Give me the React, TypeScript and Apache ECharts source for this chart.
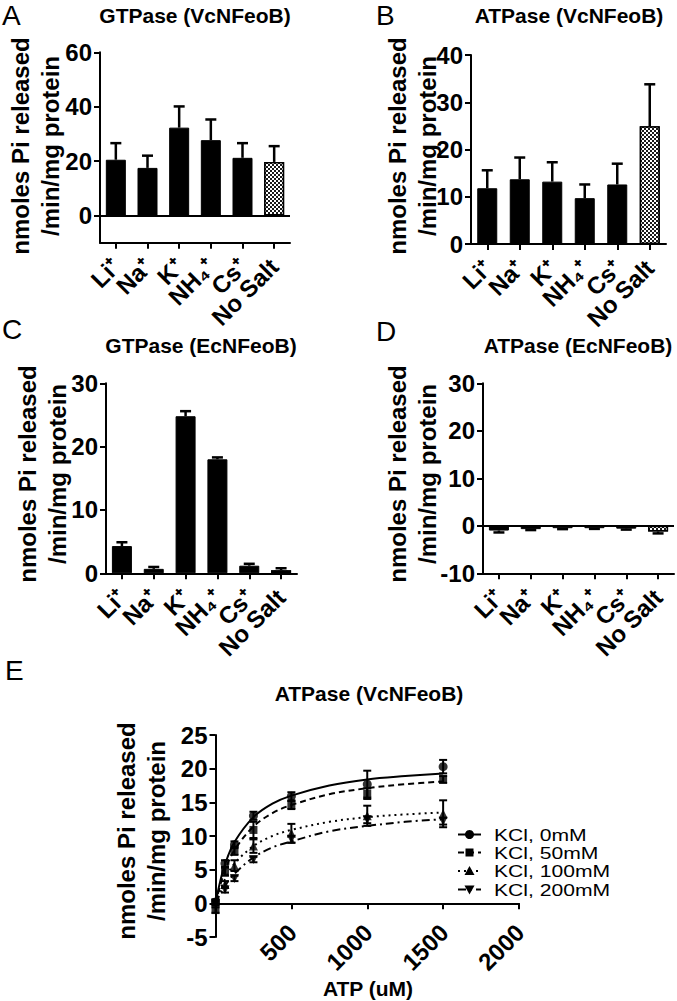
import React, { useEffect, useRef } from 'react';
import * as echarts from 'echarts';

// ---------- data ----------
const cations = ['Li⁺', 'Na⁺', 'K⁺', 'NH₄⁺', 'Cs⁺', 'No Salt'];

// A: GTPase (VcNFeoB)
const gtpaseVc = [20.5, 17.5, 32.3, 27.7, 21.2, 19.7];
const gtpaseVcErr = [6.1, 4.5, 7.8, 7.6, 5.4, 5.8];
// B: ATPase (VcNFeoB)
const atpaseVc = [11.8, 13.7, 13.2, 9.7, 12.6, 24.9];
const atpaseVcErr = [3.8, 4.6, 4.1, 2.9, 4.4, 8.9];
// C: GTPase (EcNFeoB)
const gtpaseEc = [4.3, 0.7, 24.8, 18.0, 1.2, 0.5];
const gtpaseEcErr = [0.6, 0.3, 0.8, 0.3, 0.3, 0.3];
// D: ATPase (EcNFeoB)
const atpaseEc = [-1.0, -0.7, -0.5, -0.5, -0.6, -1.2];
const atpaseEcErr = [0.4, 0.2, 0.2, 0.15, 0.2, 0.4];

const ticksA = [0, 20, 40, 60];

// E: ATPase (VcNFeoB) vs ATP
const atpConc = [0, 62.5, 125, 250, 500, 1000, 1500];
const kcl0 = [0.2, 5.9, 8.7, 13.0, 15.9, 17.7, 20.3];
const kcl0Err = [0.3, 0.5, 0.5, 0.6, 0.6, 2.0, 1.0];
const kcl50 = [-1.0, 4.7, 7.8, 10.9, 14.6, 16.3, 18.4];
const kcl50Err = [0.4, 0.6, 0.6, 1.2, 0.6, 0.8, 0.5];
const kcl100 = [0.3, 2.8, 5.6, 8.5, 10.4, 13.0, 13.3];
const kcl100Err = [0.3, 0.5, 0.8, 1.0, 1.4, 1.5, 2.0];
const kcl200 = [0.0, 2.0, 3.7, 6.5, 9.5, 12.4, 12.2];
const kcl200Err = [0.3, 0.4, 0.4, 0.4, 0.5, 0.5, 0.5];

const fitConc = [0, 31.25, 62.5, 125, 250, 375, 500, 750, 1000, 1250, 1500];
const fit0 = [0, 3.3, 5.8, 9.1, 12.8, 14.8, 16.0, 17.5, 18.4, 18.9, 19.3];
const fit50 = [0, 2.7, 4.9, 7.9, 11.4, 13.4, 14.6, 16.2, 17.1, 17.7, 18.1];
const fit100 = [0, 2.0, 3.6, 5.9, 8.5, 10.0, 10.9, 12.1, 12.8, 13.2, 13.5];
const fit200 = [0, 1.4, 2.6, 4.4, 6.8, 8.3, 9.2, 10.7, 11.5, 12.1, 12.5];

const legendLabels = ['KCl, 0mM', 'KCl, 50mM', 'KCl, 100mM', 'KCl, 200mM'];
const xLabelsE = [500, 1000, 1500, 2000];

// ---------- styling ----------
const F = "'Liberation Sans', Arial, Helvetica, sans-serif";
const K = '#000';
const LW = 2;

const axisLineStyle = { color: K, width: LW };
const tickStyle = { show: true, length: 6, lineStyle: { color: K, width: LW } };
const numLabel = { color: K, fontFamily: F, fontWeight: 'bold' as const, fontSize: 24, margin: 8 };

const noSaltDecal = {
  symbol: 'rect',
  symbolSize: 1,
  color: '#ffffff',
  dashArrayX: [[2, 2], [0, 2, 2, 0]],
  dashArrayY: [2, 0],
  rotation: 0,
};

const dashes: any[] = ['solid', [6, 4], [2, 4], [8, 4, 2, 4]];
const symbols = ['circle', 'rect', 'triangle', 'triangle'];
const symRot = [0, 0, 0, 180];

function txt(
  x: number,
  y: number,
  text: string,
  font: string,
  rotation = 0,
  align = 'center',
  vAlign = 'middle',
  extra: any = {}
) {
  const style: any = {
    text,
    font,
    fill: K,
    textAlign: align,
    textVerticalAlign: vAlign,
    align,
    verticalAlign: vAlign,
  };
  return { type: 'text', x, y, rotation, silent: true, style, ...extra };
}

function barErrRender(params: any, api: any) {
  const i = api.value(0);
  const v = api.value(1);
  const e = api.value(2);
  const dir = v < 0 ? -1 : 1;
  const p0 = api.coord([i, v]);
  const p1 = api.coord([i, v + dir * e]);
  const style = { stroke: K, lineWidth: 2.5 };
  return {
    type: 'group',
    children: [
      { type: 'line', shape: { x1: p0[0], y1: p0[1], x2: p1[0], y2: p1[1] }, style },
      { type: 'line', shape: { x1: p1[0] - 5.5, y1: p1[1], x2: p1[0] + 5.5, y2: p1[1] }, style },
    ],
  };
}

function xyErrRender(params: any, api: any) {
  const x = api.value(0);
  const y = api.value(1);
  const e = api.value(2);
  const lo = api.coord([x, y - e]);
  const hi = api.coord([x, y + e]);
  const style = { stroke: K, lineWidth: 2 };
  return {
    type: 'group',
    children: [
      { type: 'line', shape: { x1: lo[0], y1: lo[1], x2: hi[0], y2: hi[1] }, style },
      { type: 'line', shape: { x1: hi[0] - 4, y1: hi[1], x2: hi[0] + 4, y2: hi[1] }, style },
      { type: 'line', shape: { x1: lo[0] - 4, y1: lo[1], x2: lo[0] + 4, y2: lo[1] }, style },
    ],
  };
}

const eHeight = 202;
const eMin = -5;
const eMax = 25;

function buildGraphic(): any[] {
  const letterFont = `normal 28px ${F}`;
  const titleFont = `bold 21px ${F}`;
  const nameFont = `bold 24px ${F}`;
  const legendFont = `normal 16px ${F}`;
  const R = Math.PI / 2;

  const graphic: any[] = [
    txt(2, 15, 'A', letterFont, 0, 'left'),
    txt(376, 15, 'B', letterFont, 0, 'left'),
    txt(2, 329, 'C', letterFont, 0, 'left'),
    txt(376, 331, 'D', letterFont, 0, 'left'),
    txt(5, 670, 'E', letterFont, 0, 'left'),

    txt(195, 15, 'GTPase (VcNFeoB)', titleFont),
    txt(569, 15, 'ATPase (VcNFeoB)', titleFont),
    txt(201, 345, 'GTPase (EcNFeoB)', titleFont),
    txt(578, 345, 'ATPase (EcNFeoB)', titleFont),
    txt(369, 693, 'ATPase (VcNFeoB)', titleFont),

    txt(20, 146, 'nmoles Pi released', nameFont, R),
    txt(50, 146, '/min/mg protein', nameFont, R),
    txt(397, 146, 'nmoles Pi released', nameFont, R),
    txt(427, 146, '/min/mg protein', nameFont, R),
    txt(27, 474, 'nmoles Pi released', nameFont, R),
    txt(57, 474, '/min/mg protein', nameFont, R),
    txt(397, 474, 'nmoles Pi released', nameFont, R),
    txt(427, 474, '/min/mg protein', nameFont, R),
    txt(126, 831, 'nmoles Pi released', nameFont, R),
    txt(156, 831, '/min/mg protein', nameFont, R),

    txt(368, 988, 'ATP (uM)', titleFont),
  ];

  const legendY = [834.5, 852.5, 871, 889.5];
  legendY.forEach((y, k) => {
    const cx = 469.5;
    graphic.push({
      type: 'line',
      silent: true,
      shape: { x1: 458, y1: y, x2: 481, y2: y },
      style: { stroke: K, lineWidth: 2, lineDash: k === 0 ? null : dashes[k] },
    });
    if (k === 0) {
      graphic.push({ type: 'circle', silent: true, shape: { cx, cy: y, r: 4.5 }, style: { fill: K } });
    } else if (k === 1) {
      graphic.push({ type: 'rect', silent: true, shape: { x: cx - 4, y: y - 4, width: 8, height: 8 }, style: { fill: K } });
    } else if (k === 2) {
      graphic.push({
        type: 'polygon',
        silent: true,
        shape: { points: [[cx, y - 5], [cx + 5, y + 4], [cx - 5, y + 4]] },
        style: { fill: K },
      });
    } else {
      graphic.push({
        type: 'polygon',
        silent: true,
        shape: { points: [[cx, y + 5], [cx + 5, y - 4], [cx - 5, y - 4]] },
        style: { fill: K },
      });
    }
    graphic.push(txt(494, y + 0.5, legendLabels[k], legendFont, 0, 'left', 'middle', { scaleX: 1.32, scaleY: 1.08 }));
  });
  return graphic;
}

function buildOption() {
  const grids = [
    { left: 100, top: 52.3, width: 190, height: 190.4 }, // A
    { left: 471, top: 55, width: 195, height: 189 }, // B
    { left: 106, top: 383.3, width: 191, height: 190 }, // C
    { left: 483, top: 383.3, width: 191, height: 190 }, // D
    { left: 215.5, top: 735, width: 303.5, height: eHeight }, // E
  ];

  const panels = [
    { data: gtpaseVc, err: gtpaseVcErr, min: -10, max: 60, interval: 20, custom: ticksA, zero: true },
    { data: atpaseVc, err: atpaseVcErr, min: 0, max: 40, interval: 10, custom: null, zero: false },
    { data: gtpaseEc, err: gtpaseEcErr, min: 0, max: 30, interval: 10, custom: null, zero: false },
    { data: atpaseEc, err: atpaseEcErr, min: -10, max: 30, interval: 10, custom: null, zero: true },
  ];

  const xAxis: any[] = [];
  const yAxis: any[] = [];
  const series: any[] = [];

  panels.forEach((p, i) => {
    xAxis.push({
      type: 'category',
      gridIndex: i,
      data: cations,
      boundaryGap: true,
      axisLine: { show: true, onZero: false, lineStyle: axisLineStyle },
      axisTick: { ...tickStyle, alignWithLabel: true },
      axisLabel: { ...numLabel, fontSize: 24, rotate: 45, interval: 0, margin: 20 },
      splitLine: { show: false },
    });
    const y: any = {
      type: 'value',
      gridIndex: i,
      min: p.min,
      max: p.max,
      axisLine: { show: true, lineStyle: axisLineStyle },
      axisTick: { ...tickStyle },
      axisLabel: { ...numLabel, margin: 8 },
      splitLine: { show: false },
    };
    if (p.custom) {
      y.axisTick.customValues = p.custom;
      y.axisLabel.customValues = p.custom;
    } else {
      y.interval = p.interval;
    }
    yAxis.push(y);

    const bar: any = {
      type: 'bar',
      xAxisIndex: i,
      yAxisIndex: i,
      barWidth: 20,
      itemStyle: { color: K, borderColor: K, borderWidth: 1 },
      data: p.data.map((v, j) =>
        j === p.data.length - 1
          ? { value: v, itemStyle: { color: '#1a1a1a', borderColor: K, borderWidth: 1.5, decal: noSaltDecal } }
          : v
      ),
    };
    if (p.zero) {
      bar.markLine = {
        silent: true,
        symbol: ['none', 'none'],
        label: { show: false },
        lineStyle: { color: K, width: LW, type: 'solid' },
        data: [{ yAxis: 0 }],
      };
    }
    series.push(bar);
    series.push({
      type: 'custom',
      xAxisIndex: i,
      yAxisIndex: i,
      renderItem: barErrRender,
      encode: { x: 0, y: 1 },
      data: p.data.map((v, j) => [j, v, p.err[j]]),
      z: 5,
    });
  });

  // Panel E: x axis drawn at y = 0 by offsetting it up from the grid bottom
  const zeroOffset = -((0 - eMin) / (eMax - eMin)) * eHeight;
  xAxis.push({
    type: 'value',
    gridIndex: 4,
    min: 0,
    max: 2000,
    interval: 500,
    position: 'bottom',
    offset: zeroOffset,
    axisLine: { show: true, onZero: false, lineStyle: axisLineStyle },
    axisTick: { ...tickStyle },
    axisLabel: { show: false },
    splitLine: { show: false },
  });
  yAxis.push({
    type: 'value',
    gridIndex: 4,
    min: eMin,
    max: eMax,
    interval: 5,
    axisLine: { show: true, onZero: false, lineStyle: axisLineStyle },
    axisTick: { ...tickStyle },
    axisLabel: { ...numLabel, margin: 8 },
    splitLine: { show: false },
  });

  const means = [kcl0, kcl50, kcl100, kcl200];
  const errs = [kcl0Err, kcl50Err, kcl100Err, kcl200Err];
  const fits = [fit0, fit50, fit100, fit200];

  fits.forEach((f, k) => {
    series.push({
      type: 'line',
      name: legendLabels[k],
      xAxisIndex: 4,
      yAxisIndex: 4,
      smooth: 0.35,
      showSymbol: false,
      symbol: 'none',
      lineStyle: { color: K, width: 2, type: dashes[k] },
      data: fitConc.map((x, j) => [x, f[j]]),
      z: 2,
    });
  });
  means.forEach((m, k) => {
    series.push({
      type: 'custom',
      xAxisIndex: 4,
      yAxisIndex: 4,
      renderItem: xyErrRender,
      encode: { x: 0, y: 1 },
      data: atpConc.map((x, j) => [x, m[j], errs[k][j]]),
      z: 3,
    });
    series.push({
      type: 'scatter',
      xAxisIndex: 4,
      yAxisIndex: 4,
      symbol: symbols[k],
      symbolRotate: symRot[k],
      symbolSize: k === 1 ? 8 : 9,
      itemStyle: { color: K },
      data: atpConc.map((x, j) => [x, m[j]]),
      z: 4,
    });
  });

  return {
    animation: false,
    backgroundColor: '#ffffff',
    textStyle: { fontFamily: F },
    grid: grids.map((g) => ({ ...g, containLabel: false })),
    xAxis,
    yAxis,
    series,
    graphic: buildGraphic(),
  };
}

export default function App() {
  const ref = useRef<HTMLDivElement>(null);
  useEffect(() => {
    if (!ref.current) return;
    const chart = echarts.init(ref.current, undefined, { renderer: 'svg' });
    chart.setOption(buildOption() as any);
    // rotated tick labels for panel E's x axis, placed through the axis scale
    const labelFont = `bold 24px ${F}`;
    const extra = xLabelsE.map((v) => {
      const p = chart.convertToPixel({ xAxisIndex: 4, yAxisIndex: 4 } as any, [v, 0]) as number[];
      return txt(p[0] + 1, p[1] + 25, String(v), labelFont, Math.PI / 4, 'right', 'middle');
    });
    chart.setOption({ graphic: [...buildGraphic(), ...extra] } as any);
    return () => {
      chart.dispose();
    };
  }, []);
  return (
    <div
      ref={ref}
      style={{ position: 'fixed', left: 0, top: 0, width: 677, height: 1001, background: '#fff' }}
    />
  );
}
